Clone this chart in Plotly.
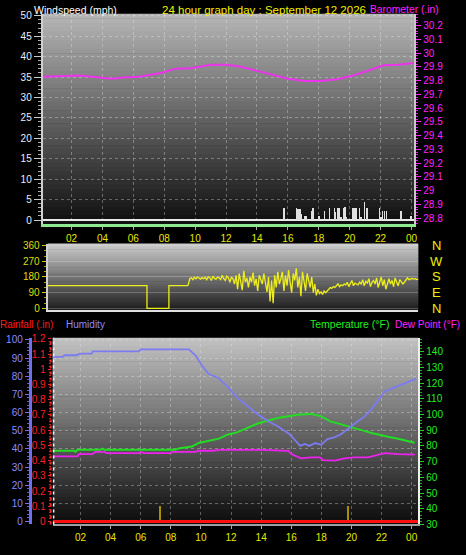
import numpy as np
import plotly.graph_objects as go

W, H = 466, 555
FONT = "Liberation Sans"

# ---------------- data ----------------
hour_ticks = [2, 4, 6, 8, 10, 12, 14, 16, 18, 20, 22, 24]
hour_labels = ["02", "04", "06", "08", "10", "12", "14", "16", "18", "20", "22", "00"]

# Barometer (in)
baro_t = [0.13, 1.68, 2.51, 3.35, 4.64, 5.28, 6.37, 7.21, 7.85, 8.5, 8.95, 9.6, 10.23, 11.07,
          11.97, 12.8, 14.1, 14.9, 16.0, 17.1, 18.1, 19.2, 20.1, 20.97, 21.8, 22.2, 23.1, 24.2]
baro_v = [29.829, 29.834, 29.838, 29.829, 29.814, 29.822, 29.829, 29.845, 29.857, 29.88, 29.888,
          29.888, 29.898, 29.916, 29.916, 29.905, 29.869, 29.845, 29.814, 29.798, 29.797, 29.81,
          29.833, 29.864, 29.893, 29.912, 29.916, 29.929]

# Wind gusts (mph)
gust_t = [15.76, 16.55, 16.66, 16.77, 16.83, 17.09, 17.2, 17.52, 17.63, 18.01, 18.38, 18.7, 19.02,
          19.09, 19.24, 19.34, 19.45, 19.62, 19.71, 19.77, 20.22, 20.31, 20.41, 20.63, 20.73, 20.95,
          21.12, 21.16, 21.92, 22.02, 22.13, 22.24, 22.39, 23.31, 23.95]
gust_v = [3.0, 3.0, 2.8, 2.6, 1.6, 1.0, 1.0, 2.2, 3.0, 1.0, 2.2, 3.0, 3.0, 2.0, 3.0, 3.0, 0.8, 3.0,
          3.2, 0.8, 3.0, 3.0, 3.0, 3.0, 0.8, 4.4, 3.0, 3.0, 3.0, 0.8, 2.2, 2.2, 2.2, 2.2, 1.0]

# Wind direction (deg)
dir_step_t = [0.0, 6.43, 6.43, 7.85, 7.85, 9.05]
dir_step_v = [130, 130, 0, 0, 130, 130]
dir_noisy_v = [
    135, 170, 175, 165, 178, 170, 180, 172, 168, 176,
    170, 178, 165, 182, 175, 160, 185, 172, 168, 180,
    175, 165, 190, 170, 160, 185, 175, 150, 180, 170,
    140, 190, 110, 200, 160, 105, 215, 150, 175, 120,
    180, 150, 205, 130, 170, 100, 190, 160, 140, 200,
    150, 95, 180, 40, 160, 30, 190, 120, 210, 140,
    170, 210, 100, 190, 130, 220, 150, 90, 200, 160,
    230, 120, 180, 70, 210, 140, 100, 200, 160, 120,
    180, 90, 140, 75, 110, 85, 95, 80, 100, 90,
    100, 110, 120, 115, 125, 120, 130, 140, 125, 135,
    130, 140, 135, 150, 125, 140, 160, 130, 145, 140,
    135, 150, 140, 165, 130, 155, 145, 170, 125, 150,
    160, 140, 175, 120, 155, 180, 130, 165, 110, 150,
    170, 140, 160, 125, 175, 150, 130, 165, 155, 140,
    150, 160, 175, 165, 170, 172, 168, 170, 165, 168,
]
dir_noisy_t = list(np.round(np.arange(91, 241) / 10.0, 1))

# Humidity (%)
hum_t = [0.15, 0.8, 0.95, 1.75, 1.95, 2.75, 2.8, 5.9, 6.0, 9.2, 9.65, 10.05, 10.5, 11.15, 11.8,
         12.35, 13.15, 13.8, 14.5, 15.1, 15.6, 15.9, 16.3, 16.6, 16.9, 17.2, 17.6, 18.0, 18.4,
         18.9, 19.3, 19.8, 20.4, 20.9, 21.3, 21.7, 22.2, 22.9, 23.5, 24.3]
hum_v = [90.6, 90.6, 91.5, 91.5, 92.4, 92.4, 93.7, 93.7, 94.8, 94.8, 91.3, 86, 81.3, 79, 74, 68.6,
         63.2, 58.9, 55, 52.4, 49.7, 48, 44.3, 41.6, 42.7, 41.6, 43.2, 42.2, 45.4, 46.5, 48, 51.4,
         55, 58, 61.6, 66, 71.4, 74, 75.8, 78.5]

# Temperature (F)
temp_t = [0.15, 1.6, 1.67, 1.8, 3.3, 3.45, 3.6, 8.3, 8.5, 9.4, 9.85, 10.5, 11.2, 11.8, 12.4, 13.1,
          13.8, 14.5, 15.1, 15.8, 16.4, 17.0, 17.3, 18.0, 18.6, 19.2, 19.8, 20.4, 20.9, 21.4, 21.9,
          22.5, 23.1, 23.6, 24.2]
temp_v = [76.9, 76.9, 76.2, 77.5, 77.5, 78.3, 77.5, 77.5, 78.3, 79.6, 81.9, 83.1, 84.6, 87.3, 88.6,
          91.5, 94.4, 96.2, 97.7, 98.8, 99.8, 100.2, 100.4, 98.8, 95.6, 94, 92.5, 91, 89.4, 88,
          86.7, 85.6, 84.6, 83.3, 82]

# Dew point (F)
dew_t = [0.15, 1.8, 1.9, 2.8, 3.0, 3.6, 3.7, 5.9, 6.0, 6.2, 8.0, 8.1, 9.6, 9.85, 10.8, 11.2, 14.0,
         15.8, 16.0, 16.65, 17.3, 17.9, 18.1, 18.9, 19.55, 20.2, 21.1, 21.5, 22.2, 23.1, 24.2]
dew_v = [73.3, 73.3, 74.8, 74.8, 76.2, 76.2, 75.4, 75.4, 76.2, 75.4, 75.4, 76.2, 76.2, 76.9, 76.9,
         77.5, 77.5, 76.9, 74.8, 72.1, 72.7, 72.7, 71.0, 70.6, 72.1, 72.7, 72.7, 73.7, 75.4, 74.8,
         74.4]

# Rainfall (in)
rain_t = [0.15, 6, 12, 18, 24.44]
rain_v = [0, 0, 0, 0, 0]
rainmark_t = [7.28, 19.76]
rainmark_v = [0.1, 0.1]

compass = ["N", "W", "S", "E", "N"]
compass_deg = [360, 270, 180, 90, 0]

# ---------------- layout helpers (pixels -> paper) ----------------
def px(x):
    return x / W

def py(y):
    return 1 - y / H

P1 = (43, 417, 10, 224)
P2 = (48, 421, 244, 312)
P3 = (53, 421, 340, 530)

shapes = []

def gradient(panel, top, bottom, n=48):
    x0, x1, y0, y1 = panel
    for i in range(n):
        f = (i + 0.5) / n
        g = int(round(top + (bottom - top) * f))
        ya = y0 + (y1 - y0) * i / n
        yb = y0 + (y1 - y0) * (i + 1) / n + 0.6
        shapes.append(dict(type="rect", xref="paper", yref="paper", layer="below",
                           x0=px(x0), x1=px(x1), y0=py(yb), y1=py(ya),
                           line=dict(width=0), fillcolor=f"rgb({g},{g},{g})"))

gradient(P1, 182, 14)
gradient(P2, 205, 28)
gradient(P3, 195, 10)

# dotted borders of the lower panel (rain scale and left edge)
shapes.append(dict(type="line", xref="paper", yref="paper", layer="above",
                   x0=px(51), x1=px(51), y0=py(P3[3]), y1=py(P3[2]),
                   line=dict(color="#ee2a2a", width=2, dash="dot")))
shapes.append(dict(type="line", xref="paper", yref="paper", layer="above",
                   x0=px(54), x1=px(54), y0=py(P3[3]), y1=py(P3[2]),
                   line=dict(color="#f0f0f0", width=1.5, dash="dot")))

fig = go.Figure()

# Panel 1
fig.add_trace(go.Bar(x=gust_t, y=gust_v, width=0.1, marker=dict(color="#e0e0e0", line=dict(width=0)),
                     xaxis="x", yaxis="y", showlegend=False))
fig.add_trace(go.Scatter(x=baro_t, y=baro_v, mode="lines", line=dict(color="#ee33ee", width=2),
                         xaxis="x", yaxis="y2", showlegend=False))
# Panel 2
fig.add_trace(go.Scatter(x=dir_step_t + dir_noisy_t, y=dir_step_v + dir_noisy_v, mode="lines",
                         line=dict(color="#eeee1a", width=1.3), xaxis="x2", yaxis="y3",
                         showlegend=False))
# Panel 3
fig.add_trace(go.Bar(x=rainmark_t, y=rainmark_v, width=0.1, marker=dict(color="#a89000", line=dict(width=0)),
                     xaxis="x3", yaxis="y5", showlegend=False))
fig.add_trace(go.Scatter(x=rain_t, y=rain_v, mode="lines", line=dict(color="#ff1010", width=3),
                         xaxis="x3", yaxis="y5", showlegend=False))
fig.add_trace(go.Scatter(x=hum_t, y=hum_v, mode="lines", line=dict(color="#7c7cf0", width=1.8),
                         xaxis="x3", yaxis="y4", showlegend=False))
fig.add_trace(go.Scatter(x=temp_t, y=temp_v, mode="lines", line=dict(color="#22dd22", width=2),
                         xaxis="x3", yaxis="y6", showlegend=False))
fig.add_trace(go.Scatter(x=dew_t, y=dew_v, mode="lines", line=dict(color="#ee22ee", width=1.8),
                         xaxis="x3", yaxis="y6", showlegend=False))

tickfont = dict(family=FONT, size=10)
grid = dict(showgrid=True, gridcolor="rgba(235,235,235,0.35)", griddash="dot", gridwidth=1)

fig.update_layout(
    width=W, height=H, margin=dict(l=0, r=0, t=0, b=0),
    paper_bgcolor="black", plot_bgcolor="rgba(0,0,0,0)",
    shapes=shapes, bargap=0,
    font=dict(family=FONT, size=10, color="white"),
    xaxis=dict(domain=[px(P1[0]), px(P1[1])], anchor="y", range=[0.135, 24.18],
               tickvals=hour_ticks, ticktext=hour_labels,
               tickfont=dict(tickfont, color="#e8e800"), ticks="outside", ticklen=3,
               tickcolor="#aaaaaa", showline=True, linecolor="#90e890", linewidth=3,
               zeroline=False, **grid),
    yaxis=dict(domain=[py(P1[3]), py(P1[2])], anchor="x", range=[-0.96, 50.48], dtick=5,
               tickfont=dict(tickfont, color="#e6eeff"), ticks="outside", ticklen=7,
               tickcolor="#cccccc", showline=True, linecolor="#d0d0d0", linewidth=2,
               minor=dict(dtick=1, ticklen=3, tickcolor="#aaaaaa", showgrid=False),
               zeroline=True, zerolinecolor="#e8e8e8", zerolinewidth=2, **grid),
    yaxis2=dict(overlaying="y", anchor="x", side="right", range=[28.757, 30.286], dtick=0.1,
                tickfont=dict(tickfont, color="#ff22ff"), ticks="outside", ticklen=5,
                tickcolor="#ff22ff", showline=True, linecolor="#c8c8c8", linewidth=2,
                minor=dict(dtick=0.02, ticklen=2, tickcolor="#dd22dd"),
                showgrid=False, zeroline=False),
    xaxis2=dict(domain=[px(P2[0]), px(P2[1])], anchor="y3", range=[0, 24],
                showticklabels=False, ticks="", showgrid=False, zeroline=False,
                showline=True, linecolor="#e0e0e0", linewidth=2),
    yaxis3=dict(domain=[py(P2[3]), py(P2[2])], anchor="x2", range=[-11.25, 371.25],
                tickvals=[0, 90, 180, 270, 360],
                tickfont=dict(tickfont, color="#dede10"), ticks="outside", ticklen=4,
                tickcolor="#cccc00", showline=True, linecolor="#d0d0d0", linewidth=2,
                minor=dict(dtick=30, ticklen=2, tickcolor="#aaaa00"),
                showgrid=True, gridcolor="rgba(235,235,235,0.25)", gridwidth=1,
                zeroline=False),
    xaxis3=dict(domain=[px(P3[0]), px(P3[1])], anchor="y6", range=[0.15, 24.44],
                tickvals=hour_ticks, ticktext=hour_labels,
                tickfont=dict(tickfont, color="#e8e800"), ticks="outside", ticklen=3,
                tickcolor="#aaaaaa", showline=True, linecolor="#a0a0a0", linewidth=2,
                zeroline=False, **grid),
    yaxis6=dict(domain=[py(P3[3]), py(P3[2])], anchor="x3", side="right", range=[30, 148.75],
                dtick=10, tick0=0, tickfont=dict(tickfont, color="#22ee22"), ticks="outside",
                ticklen=4, tickcolor="#22cc22", showline=True, linecolor="#f0f0f0", linewidth=2,
                minor=dict(dtick=2, ticklen=2, tickcolor="#22aa22"),
                showgrid=False, zeroline=False),
    yaxis4=dict(overlaying="y6", anchor="free", position=px(30), side="left",
                range=[-1.62, 101.08], dtick=10,
                tickfont=dict(tickfont, color="#8c8cff"), ticks="outside", ticklen=4,
                tickcolor="#7070ee", showline=True, linecolor="#7070ee", linewidth=3,
                minor=dict(dtick=2, ticklen=2, tickcolor="#6060cc"),
                showgrid=True, gridcolor="rgba(235,235,235,0.35)", griddash="dot",
                zeroline=False),
    yaxis5=dict(overlaying="y6", anchor="free", position=px(51), side="left",
                range=[-0.0194, 1.2065], dtick=0.1,
                tickfont=dict(tickfont, color="#ff2020"), ticks="outside", ticklen=3,
                tickcolor="#ee2020", showline=False,
                minor=dict(dtick=0.02, ticklen=2, tickcolor="#cc2020"),
                showgrid=False, zeroline=False),
)

ann = []
def text(x, y, s, color, size=10.5, xanchor="left"):
    ann.append(dict(x=px(x), y=py(y), xref="paper", yref="paper", text=s, showarrow=False,
                    xanchor=xanchor, yanchor="middle", borderpad=0,
                    font=dict(family=FONT, size=size, color=color)))

text(33, 6, "Windspeed (mph)", "#ffffff", 10.5)
text(266, 6, "24 hour graph day : September 12 2026", "#f0f000", 11.5, xanchor="center")
text(371, 6, "Barometer (.in)", "#ff22ff", 10.3)
text(-1, 326, "Rainfall (.in)", "#ff1a1a", 10)
text(65, 326, "Humidity", "#8c8cff", 10)
text(311, 326, "Temperature (°F)", "#22ee22", 10.5)
text(464, 326, "Dew Point (°F)", "#ff22ff", 10, xanchor="right")

# compass letters aligned to the direction scale
for letter, deg in zip(compass, compass_deg):
    ann.append(dict(x=px(439), y=deg, xref="paper", yref="y3", text=letter, showarrow=False,
                    xanchor="center", yanchor="middle",
                    font=dict(family=FONT, size=13, color="#f0f000")))

fig.update_layout(annotations=ann)
fig.write_html("out.html",
               config={"displayModeBar": False, "staticPlot": True},
               post_script="document.body.style.margin='0';document.body.style.overflow='hidden';")
